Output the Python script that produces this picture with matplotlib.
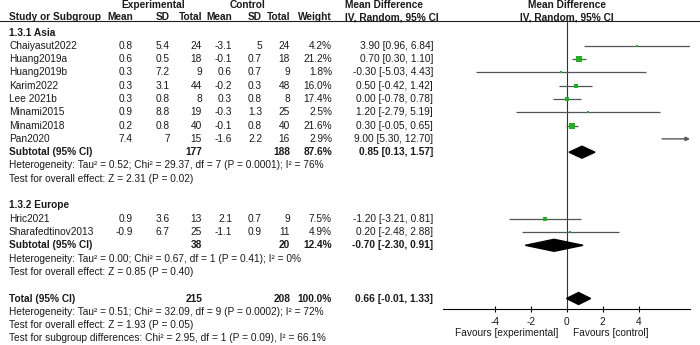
import numpy as np
import matplotlib
matplotlib.use("Agg")
import matplotlib.pyplot as plt
from matplotlib.patches import Polygon

plt.rcParams['font.family'] = ['Liberation Sans', 'DejaVu Sans']
plt.rcParams['font.size'] = 7.3
plt.rcParams['axes.unicode_minus'] = False

# ---- data ----
asia_names = ["Chaiyasut2022", "Huang2019a", "Huang2019b", "Karim2022", "Lee 2021b",
              "Minami2015", "Minami2018", "Pan2020"]
asia_exp_mean = [0.8, 0.6, 0.3, 0.3, 0.3, 0.9, 0.2, 7.4]
asia_exp_sd = [5.4, 0.5, 7.2, 3.1, 0.8, 8.8, 0.8, 7]
asia_exp_n = [24, 18, 9, 44, 8, 19, 40, 15]
asia_ctl_mean = [-3.1, -0.1, 0.6, -0.2, 0.3, -0.3, -0.1, -1.6]
asia_ctl_sd = [5, 0.7, 0.7, 0.3, 0.8, 1.3, 0.8, 2.2]
asia_ctl_n = [24, 18, 9, 48, 8, 25, 40, 16]
asia_weight = [4.2, 21.2, 1.8, 16.0, 17.4, 2.5, 21.6, 2.9]
asia_md = [3.90, 0.70, -0.30, 0.50, 0.00, 1.20, 0.30, 9.00]
asia_lo = [0.96, 0.30, -5.03, -0.42, -0.78, -2.79, -0.05, 5.30]
asia_hi = [6.84, 1.10, 4.43, 1.42, 0.78, 5.19, 0.65, 12.70]

eur_names = ["Hric2021", "Sharafedtinov2013"]
eur_exp_mean = [0.9, -0.9]
eur_exp_sd = [3.6, 6.7]
eur_exp_n = [13, 25]
eur_ctl_mean = [2.1, -1.1]
eur_ctl_sd = [0.7, 0.9]
eur_ctl_n = [9, 11]
eur_weight = [7.5, 4.9]
eur_md = [-1.20, 0.20]
eur_lo = [-3.21, -2.48]
eur_hi = [0.81, 2.88]

# subtotal / total rows: exp n, ctl n, weight, md, lo, hi
asia_sub = [177, 188, 87.6, 0.85, 0.13, 1.57]
eur_sub = [38, 20, 12.4, -0.70, -2.30, 0.91]
overall = [215, 208, 100.0, 0.66, -0.01, 1.33]

asia_het = "Heterogeneity: Tau\u00b2 = 0.52; Chi\u00b2 = 29.37, df = 7 (P = 0.0001); I\u00b2 = 76%"
asia_eff = "Test for overall effect: Z = 2.31 (P = 0.02)"
eur_het = "Heterogeneity: Tau\u00b2 = 0.00; Chi\u00b2 = 0.67, df = 1 (P = 0.41); I\u00b2 = 0%"
eur_eff = "Test for overall effect: Z = 0.85 (P = 0.40)"
tot_het = "Heterogeneity: Tau\u00b2 = 0.51; Chi\u00b2 = 32.09, df = 9 (P = 0.0002); I\u00b2 = 72%"
tot_eff = "Test for overall effect: Z = 1.93 (P = 0.05)"
tot_sub = "Test for subgroup differences: Chi\u00b2 = 2.95, df = 1 (P = 0.09), I\u00b2 = 66.1%"

xticks = [-4, -2, 0, 2, 4]

# ---- layout (pixels) ----
W, H = 700, 345
Y0, DY = 32.5, 13.3
def ry(row):
    return Y0 + DY * row

col_name = 9
col_right = [133, 170, 202, 232, 262, 290, 332]
col_md = 433
txt = '#1a1a1a'
green = '#1db31d'
ci_col = '#555555'

fig = plt.figure(figsize=(7, 3.45), dpi=100)
tx = fig.add_axes([0, 0, 1, 1])
tx.set_xlim(0, W)
tx.set_ylim(H, 0)
tx.axis('off')

ax_l, ax_r, ax_t, ax_b = 443, 690, 21, 309
fx = fig.add_axes([ax_l / W, 1 - ax_b / H, (ax_r - ax_l) / W, (ax_b - ax_t) / H])
fx.set_xlim(-6.87, 6.85)
fx.set_ylim(ax_b, ax_t)
fx.patch.set_alpha(0)
for s in ['top', 'left', 'right']:
    fx.spines[s].set_visible(False)
fx.spines['bottom'].set_linewidth(0.8)
fx.set_yticks([])
fx.set_xticks(xticks)
fx.set_xticklabels([str(t) for t in xticks])
fx.tick_params(axis='x', direction='inout', length=4, width=0.8, pad=4, labelsize=7.3, labelcolor=txt)
fx.axvline(0, color='#333333', lw=0.8)

# headers
tx.axhline(21, color='#222222', lw=0.8)
tx.text(153, 5, "Experimental", ha='center', va='center', fontweight='bold', color=txt)
tx.text(247, 5, "Control", ha='center', va='center', fontweight='bold', color=txt)
tx.text(345, 5, "Mean Difference", ha='left', va='center', fontweight='bold', color=txt)
tx.text(567, 5, "Mean Difference", ha='center', va='center', fontweight='bold', color=txt)
tx.text(col_name, 17, "Study or Subgroup", ha='left', va='center', fontweight='bold', color=txt)
for x, lab in zip(col_right, ["Mean", "SD", "Total", "Mean", "SD", "Total", "Weight"]):
    tx.text(x, 17, lab, ha='right', va='center', fontweight='bold', color=txt)
tx.text(345, 17, "IV, Random, 95% CI", ha='left', va='center', fontweight='bold', color=txt)
tx.text(567, 17, "IV, Random, 95% CI", ha='center', va='center', fontweight='bold', color=txt)


def study_rows(start, names, em, es, en, cm, cs, cn, w, md, lo, hi):
    xmin, xmax = fx.get_xlim()
    for i in range(len(names)):
        y = ry(start + i)
        tx.text(col_name, y, names[i], ha='left', va='center', color=txt)
        vals = ['{:g}'.format(em[i]), '{:g}'.format(es[i]), str(en[i]),
                '{:g}'.format(cm[i]), '{:g}'.format(cs[i]), str(cn[i]), '{:.1f}%'.format(w[i])]
        for x, v in zip(col_right, vals):
            tx.text(x, y, v, ha='right', va='center', color=txt)
        tx.text(col_md, y, '{:.2f} [{:.2f}, {:.2f}]'.format(md[i], lo[i], hi[i]),
                ha='right', va='center', color=txt)
        if hi[i] > xmax:
            fx.annotate('', xy=(xmax, y), xytext=(max(lo[i], xmin), y),
                        arrowprops=dict(arrowstyle='-|>', color=ci_col, lw=1.0,
                                        mutation_scale=6, shrinkA=0, shrinkB=0),
                        annotation_clip=False)
        else:
            fx.plot([lo[i], hi[i]], [y, y], color=ci_col, lw=0.9, solid_capstyle='butt')
        side = 1.1 * np.sqrt(w[i]) * 0.72
        if md[i] <= xmax:
            fx.scatter([md[i]], [y], marker='s', s=side ** 2, color=green, zorder=3, linewidths=0)


def total_row(row, label, vals):
    y = ry(row)
    tx.text(col_name, y, label, ha='left', va='center', fontweight='bold', color=txt)
    tx.text(col_right[2], y, str(vals[0]), ha='right', va='center', fontweight='bold', color=txt)
    tx.text(col_right[5], y, str(vals[1]), ha='right', va='center', fontweight='bold', color=txt)
    tx.text(col_right[6], y, '{:.1f}%'.format(vals[2]), ha='right', va='center', fontweight='bold', color=txt)
    tx.text(col_md, y, '{:.2f} [{:.2f}, {:.2f}]'.format(vals[3], vals[4], vals[5]),
            ha='right', va='center', fontweight='bold', color=txt)
    h = 6
    fx.add_patch(Polygon([(vals[4], y), (vals[3], y - h), (vals[5], y), (vals[3], y + h)],
                         closed=True, color='black', zorder=3))


# Asia
tx.text(col_name, ry(0), "1.3.1 Asia", ha='left', va='center', fontweight='bold', color=txt)
study_rows(1, asia_names, asia_exp_mean, asia_exp_sd, asia_exp_n, asia_ctl_mean, asia_ctl_sd,
           asia_ctl_n, asia_weight, asia_md, asia_lo, asia_hi)
total_row(9, "Subtotal (95% CI)", asia_sub)
tx.text(col_name, ry(10), asia_het, ha='left', va='center', color=txt)
tx.text(col_name, ry(11), asia_eff, ha='left', va='center', color=txt)

# Europe
tx.text(col_name, ry(13), "1.3.2 Europe", ha='left', va='center', fontweight='bold', color=txt)
study_rows(14, eur_names, eur_exp_mean, eur_exp_sd, eur_exp_n, eur_ctl_mean, eur_ctl_sd,
           eur_ctl_n, eur_weight, eur_md, eur_lo, eur_hi)
total_row(16, "Subtotal (95% CI)", eur_sub)
tx.text(col_name, ry(17), eur_het, ha='left', va='center', color=txt)
tx.text(col_name, ry(18), eur_eff, ha='left', va='center', color=txt)

# Overall
total_row(20, "Total (95% CI)", overall)
tx.text(col_name, ry(21), tot_het, ha='left', va='center', color=txt)
tx.text(col_name, ry(22), tot_eff, ha='left', va='center', color=txt)
tx.text(col_name, ry(23), tot_sub, ha='left', va='center', color=txt)

tx.text(558, 333, "Favours [experimental]", ha='right', va='center', color=txt)
tx.text(573, 333, "Favours [control]", ha='left', va='center', color=txt)

fig.savefig("out.png", dpi=100)
